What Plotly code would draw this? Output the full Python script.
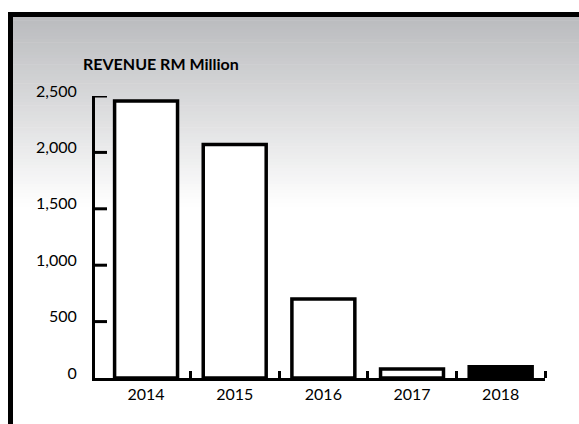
import plotly.graph_objects as go

years = ["2014", "2015", "2016", "2017", "2018"]
revenue = [2455, 2070, 700, 80, 100]
bar_colors = ["white", "white", "white", "white", "black"]
y_ticks = [0, 500, 1000, 1500, 2000, 2500]
y_tick_text = ["0", "500", "1,000", "1,500", "2,000", "2,500"]

W, H = 579, 424
L, R, T, B = 95, 34, 96, 46
PW, PH = W - L - R, H - T - B

def px_x(px):
    return (px - L) / PW

def px_y(py):
    return (H - B - py) / PH

x_pos = list(range(len(years)))

fig = go.Figure()
fig.add_trace(go.Bar(
    x=x_pos, y=revenue, width=0.71,
    marker=dict(color=bar_colors, line=dict(color="black", width=3.5)),
    showlegend=False,
))

shapes = []
# gradient background strips
top_c = (186, 187, 190)
y0, y1 = 17, 206
n = 60
for i in range(n):
    a = y0 + (y1 - y0) * i / n
    b = y0 + (y1 - y0) * (i + 1) / n
    t = (i + 0.5) / n
    c = tuple(int(round(tc + (255 - tc) * t)) for tc in top_c)
    shapes.append(dict(type="rect", xref="paper", yref="paper", layer="below",
                       x0=px_x(13), x1=px_x(W + 5), y0=px_y(b + 0.6), y1=px_y(a),
                       fillcolor="rgb(%d,%d,%d)" % c, line=dict(width=0)))
# frame
shapes.append(dict(type="rect", xref="paper", yref="paper", layer="below",
                   x0=px_x(8), x1=px_x(13), y0=px_y(H + 5), y1=px_y(12),
                   fillcolor="black", line=dict(width=0)))
shapes.append(dict(type="rect", xref="paper", yref="paper", layer="below",
                   x0=px_x(8), x1=px_x(W + 5), y0=px_y(17), y1=px_y(12),
                   fillcolor="black", line=dict(width=0)))
# y-axis tick marks pointing into the plot, placed on the y scale
for v in y_ticks[1:]:
    shapes.append(dict(type="line", xref="paper", yref="y", layer="above",
                       x0=px_x(94), x1=px_x(107), y0=v, y1=v,
                       line=dict(color="black", width=3)))

tick_font = dict(family="Lato", size=16, color="black")

fig.update_layout(
    width=W, height=H,
    margin=dict(l=L, r=R, t=T, b=B, pad=0),
    paper_bgcolor="white", plot_bgcolor="rgba(0,0,0,0)",
    shapes=shapes,
    annotations=[dict(text="<b>REVENUE RM Million</b>", xref="paper", yref="paper",
                      x=px_x(81), y=px_y(63), xanchor="left", yanchor="middle",
                      showarrow=False, font=dict(family="Lato", size=16, color="black"))],
    xaxis=dict(range=[-0.576, 4.5], tickvals=x_pos, ticktext=years, ticks="",
               showline=True, linecolor="black", linewidth=3, showgrid=False,
               zeroline=False, tickfont=tick_font, ticklabelstandoff=0,
               minor=dict(tickvals=[0.5, 1.5, 2.5, 3.5, 4.5], ticks="inside",
                          ticklen=7, tickwidth=3, tickcolor="black", showgrid=False)),
    yaxis=dict(range=[0, 2500], tickvals=y_ticks, ticktext=y_tick_text, ticks="",
               showline=True, linecolor="black", linewidth=3, showgrid=False,
               zeroline=False, tickfont=tick_font, ticklabelstandoff=12,
               ticklabelshift=-5),
)

fig.write_html("out.html")
